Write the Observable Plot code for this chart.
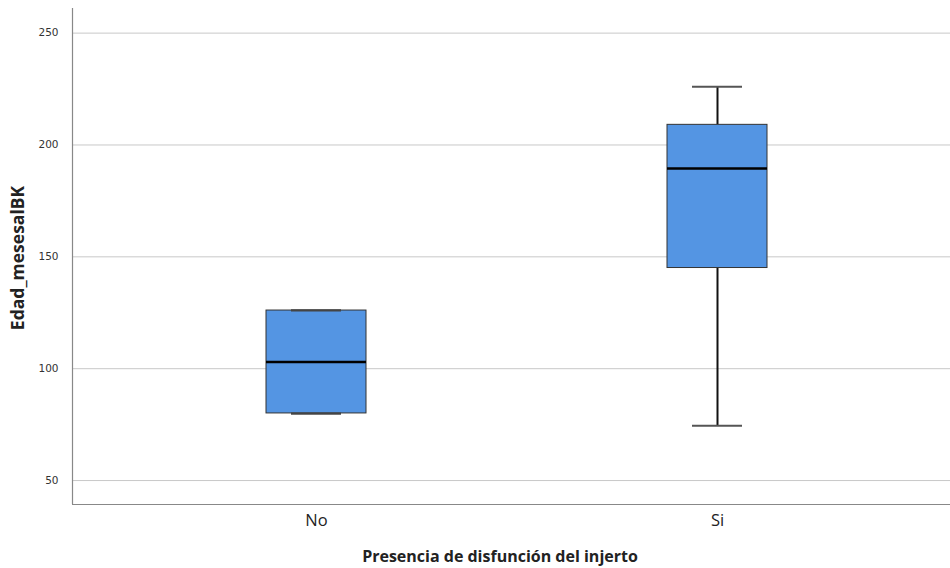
<!DOCTYPE html>
<html>
<head>
<meta charset="utf-8">
<script src="https://cdn.jsdelivr.net/npm/d3@7"></script>
<script src="https://cdn.jsdelivr.net/npm/@observablehq/plot@0.6"></script>
<style>
  html, body { margin: 0; padding: 0; background: #fff; }
  #chart { width: 950px; height: 568px; }
</style>
</head>
<body>
<div id="chart"></div>
<script>
// Data
const categories = ["No", "Si"];
const whiskerLow = [80, 74.5];
const q1 = [80, 145];
const median = [103, 189.5];
const q3 = [126, 209];
const whiskerHigh = [126, 226];
const yTicks = [50, 100, 150, 200, 250];
const yDomain = [39.3, 261];
const yLabel = "Edad_mesesalBK";
const xLabel = "Presencia de disfunción del injerto";

const rows = categories.map((c, i) => ({
  cat: c, lo: whiskerLow[i], q1: q1[i], med: median[i], q3: q3[i], hi: whiskerHigh[i]
}));

const W = 950, H = 568;
const mL = 72, mR = 0, mT = 8, mB = 64;
const boxFill = "#5495e3";

const plot = Plot.plot({
  width: W,
  height: H,
  marginLeft: mL,
  marginRight: mR,
  marginTop: mT,
  marginBottom: mB,
  style: { background: "#fff", fontFamily: "'DejaVu Sans', sans-serif" },
  x: { type: "band", domain: categories, range: [83, 950], paddingInner: 0.7506, paddingOuter: 0.4563, label: null },
  y: { domain: yDomain, label: null },
  marks: [
    Plot.gridY(yTicks, { stroke: "#c8c8c8", strokeOpacity: 1, strokeWidth: 1 }),
    Plot.axisY(yTicks, { tickSize: 0, tickPadding: 14, fontSize: 10.5, fill: "#333", label: null }),
    Plot.axisX(categories, { tickSize: 0, tickPadding: 10, fontSize: 16.5, fill: "#222", label: null, fontFamily: "'Open Sans', sans-serif" }),
    Plot.ruleY([yDomain[0]], { stroke: "#888", strokeWidth: 1.2 }),
    Plot.ruleX(rows, { x: "cat", y1: "lo", y2: "q1", stroke: "#111", strokeWidth: 2 }),
    Plot.ruleX(rows, { x: "cat", y1: "q3", y2: "hi", stroke: "#111", strokeWidth: 2 }),
    Plot.tickY(rows, { x: "cat", y: "lo", stroke: "#555", strokeWidth: 2, insetLeft: 25, insetRight: 25 }),
    Plot.tickY(rows, { x: "cat", y: "hi", stroke: "#555", strokeWidth: 2, insetLeft: 25, insetRight: 25 }),
    Plot.barY(rows, { x: "cat", y1: "q1", y2: "q3", fill: boxFill, stroke: "#333", strokeWidth: 1 }),
    Plot.tickY(rows.filter(r => r.lo === r.q1), { x: "cat", y: "lo", stroke: "#444", strokeWidth: 2, insetLeft: 25, insetRight: 25 }),
    Plot.tickY(rows.filter(r => r.hi === r.q3), { x: "cat", y: "hi", stroke: "#444", strokeWidth: 2, insetLeft: 25, insetRight: 25 }),
    Plot.tickY(rows, { x: "cat", y: "med", stroke: "#000", strokeWidth: 2.6 })
  ]
});

const svg = d3.select(plot);
// left axis line
svg.append("line")
  .attr("x1", mL + 0.5).attr("x2", mL + 0.5)
  .attr("y1", mT).attr("y2", H - mB)
  .attr("stroke", "#888").attr("stroke-width", 1.2);
// axis titles
svg.append("text")
  .attr("transform", `translate(24, 258) rotate(-90)`)
  .attr("text-anchor", "middle")
  .attr("font-family", "'Open Sans', sans-serif")
  .attr("font-weight", "bold")
  .attr("font-size", 17.5)
  .attr("fill", "#222")
  .text(yLabel);
svg.append("text")
  .attr("x", 500).attr("y", 562)
  .attr("text-anchor", "middle")
  .attr("font-family", "'Open Sans', sans-serif")
  .attr("font-weight", "bold")
  .attr("font-size", 16)
  .attr("fill", "#222")
  .text(xLabel);

document.getElementById("chart").appendChild(plot);
</script>
</body>
</html>
